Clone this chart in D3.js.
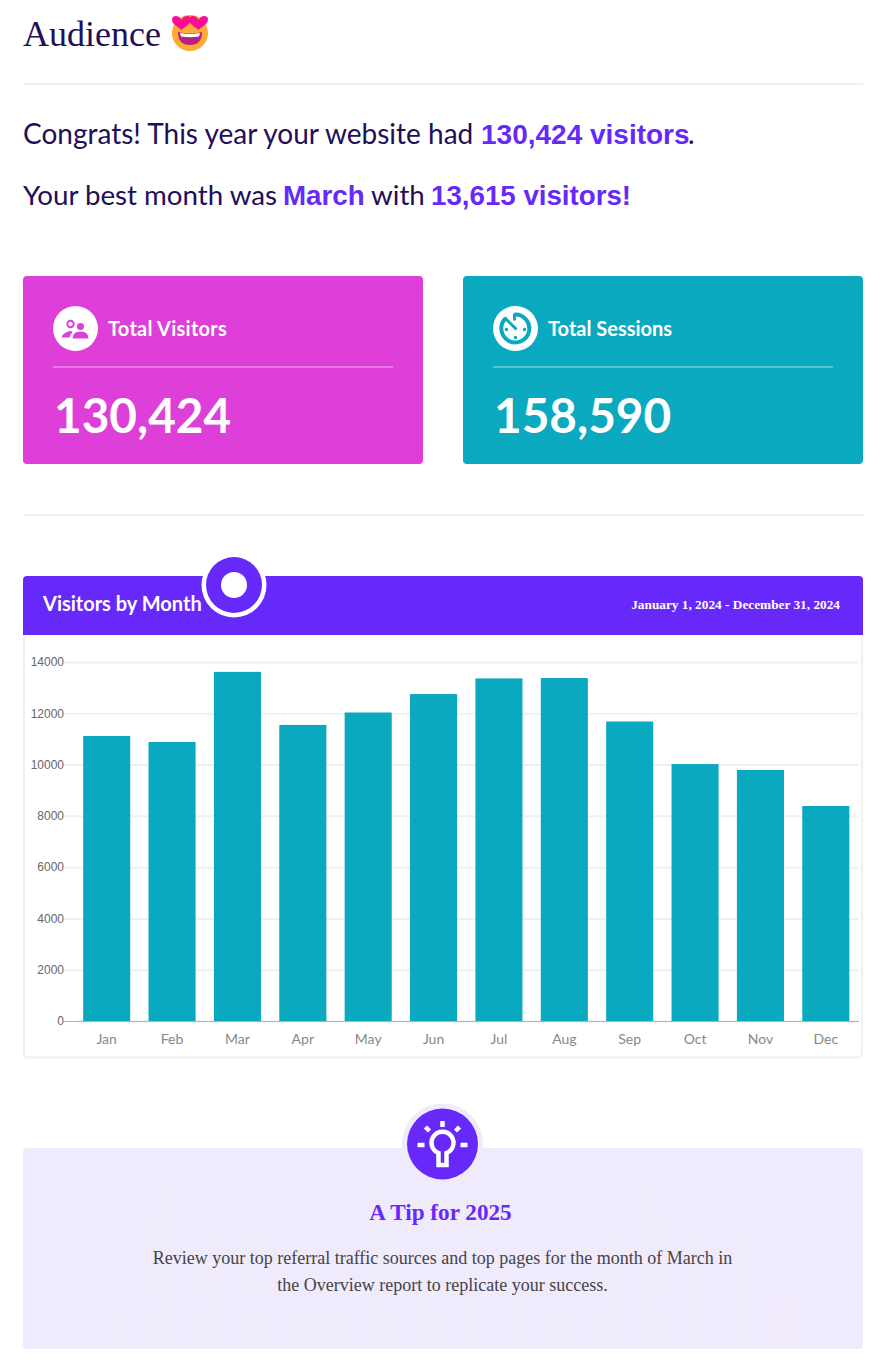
<!DOCTYPE html>
<html>
<head>
<meta charset="utf-8">
<script src="https://cdn.jsdelivr.net/npm/d3@7"></script>
<style>
  html, body { margin: 0; padding: 0; background: #fff; }
  svg { display: block; }
  .serif { font-family: "Liberation Serif", serif; }
  .lato { font-family: Lato, sans-serif; }
  .tick text { font-family: "Liberation Sans", sans-serif; font-size: 12px; fill: #666; }
  .x-axis .tick text { font-family: Lato, sans-serif; font-size: 14px; fill: #888; }
</style>
</head>
<body>
<div id="page"></div>
<script>
const width = 880;
const height = 1365;

// chart data
const months = ["Jan", "Feb", "Mar", "Apr", "May", "Jun", "Jul", "Aug", "Sep", "Oct", "Nov", "Dec"];
const visitors = [11115, 10880, 13615, 11545, 12030, 12750, 13360, 13375, 11680, 10020, 9790, 8385];
const yTicks = [0, 2000, 4000, 6000, 8000, 10000, 12000, 14000];
// faint columns behind the tip text
const tipBackdrop = [46, 161, 109, 126, 46, 46, 161, 59, 109, 59, 46, 109, 161, 109, 126, 59];

const purple = "#6729f9";
const teal = "#0aa9c0";
const magenta = "#dd3fd8";
const ink = "#210f59";
const rule = "#f0f0f0";

const svg = d3
  .select("#page")
  .append("svg")
  .attr("width", width)
  .attr("height", height)
  .attr("viewBox", `0 0 ${width} ${height}`);

function label(parent, x, y, str, cls, size, fill, weight, anchor) {
  return parent
    .append("text")
    .attr("class", cls)
    .attr("x", x)
    .attr("y", y)
    .attr("font-size", size)
    .attr("fill", fill)
    .attr("font-weight", weight || 400)
    .attr("text-anchor", anchor || "start")
    .text(str);
}

function hr(y) {
  svg.append("rect").attr("x", 23).attr("y", y).attr("width", 840).attr("height", 2).attr("fill", rule);
}

// heading + emoji
label(svg, 23, 46, "Audience", "serif", 36, ink);
const emoji = svg.append("g").attr("transform", "translate(190,33)");
emoji.append("circle").attr("r", 18).attr("fill", "#fcab35");
emoji.append("path").attr("d", "M-12,-1 Q0,2 12,-1 Q12,12 0,12 Q-12,12 -12,-1Z").attr("fill", "#b9207f");
emoji.append("path").attr("d", "M-10,0 Q0,2 10,0 L9,3.500 Q0,5 -9,3.500Z").attr("fill", "#fff");
const heart = "M0,7 C-3,4 -10,1 -9.500,-4 C-9,-8 -2,-8 0,-3 C2,-8 9,-8 9.500,-4 C10,1 3,4 0,7Z";
emoji.append("path").attr("d", heart).attr("transform", "translate(-8.500,-10)").attr("fill", "#f80e95");
emoji.append("path").attr("d", heart).attr("transform", "translate(8.500,-10)").attr("fill", "#f80e95");
hr(83);

// summary sentences, each run placed where the reference starts it
function sentence(y, size, parts) {
  const t = svg.append("text").attr("y", y);
  parts.forEach(p => {
    t.append("tspan")
      .attr("x", p[2])
      .attr("font-family", p[1] ? '"Liberation Sans", sans-serif' : "Lato, sans-serif")
      .attr("font-weight", p[1] ? 700 : 400)
      .attr("font-size", size)
      .attr("fill", p[1] ? purple : ink)
      .text(p[0]);
  });
}
sentence(144, 28, [["Congrats! This year your website had", 0, 23], ["130,424 visitors", 1, 481], [".", 0, 688]]);
sentence(205, 27.7, [["Your best month was", 0, 23], ["March", 1, 283], ["with", 0, 371], ["13,615 visitors!", 1, 431]]);

// stat cards
function card(x, fill, title, value, spacing, icon) {
  const g = svg.append("g").attr("transform", `translate(${x},276)`);
  g.append("rect").attr("width", 400).attr("height", 188).attr("rx", 4).attr("fill", fill);
  g.append("circle").attr("cx", 52.5).attr("cy", 52.5).attr("r", 22.5).attr("fill", "#fff");
  icon(g.append("g").attr("transform", "translate(52.5,52.5)"), fill);
  label(g, 85, 59.5, title, "lato", 20, "#fff", 700).attr("letter-spacing", spacing);
  g.append("rect").attr("x", 30).attr("y", 90).attr("width", 340).attr("height", 2).attr("fill", "#fff").attr("opacity", 0.3);
  label(g, 31, 157, value, "lato", 47.7, "#fff", 700);
}

card(23, magenta, "Total Visitors", "130,424", 0.25, (g, c) => {
  g.append("circle").attr("cx", -5).attr("cy", -4.5).attr("r", 3.2).attr("fill", "none").attr("stroke", c).attr("stroke-width", 2);
  g.append("circle").attr("cx", 5).attr("cy", -2).attr("r", 3.5).attr("fill", c);
  g.append("path").attr("d", "M-14,9 Q-12,3 -4,2.500 L-3,4 Q-5,5 -6,9Z").attr("fill", c);
  g.append("path").attr("d", "M-3,10 Q-3,3 5,3 Q13,3 13,10Z").attr("fill", c);
});
card(463, teal, "Total Sessions", "158,590", 0, (g, c) => {
  g.append("path").attr("d", "M-1,-14 A14,14 0 1 1 -10,-10").attr("fill", "none").attr("stroke", c).attr("stroke-width", 4);
  g.append("path").attr("d", "M-11,-11 L1,1 M-1,-15 V-8").attr("fill", "none").attr("stroke", c).attr("stroke-width", 3);
  [[-9, 1], [9, 1], [0, 9]].forEach(p => {
    g.append("circle").attr("cx", p[0]).attr("cy", p[1]).attr("r", 1.7).attr("fill", c);
  });
});
hr(514);

// chart panel
svg.append("rect").attr("x", 24).attr("y", 600).attr("width", 838).attr("height", 457.5).attr("rx", 4).attr("fill", "#fff").attr("stroke", rule).attr("stroke-width", 2);
svg.append("path").attr("d", "M23,635 V580 Q23,576 27,576 H859 Q863,576 863,580 V635Z").attr("fill", purple);
label(svg, 43, 610.5, "Visitors by Month", "lato", 20, "#fff", 700);
svg.append("circle").attr("cx", 234).attr("cy", 585).attr("r", 32.5).attr("fill", "#fff");
svg.append("circle").attr("cx", 234).attr("cy", 585).attr("r", 28).attr("fill", purple);
svg.append("circle").attr("cx", 234).attr("cy", 585).attr("r", 13).attr("fill", "#fff");
label(svg, 840, 609, "January 1, 2024 - December 31, 2024", "serif", 13.3, "#fff", 700, "end");

const x = d3.scaleBand().domain(months).range([74, 858.5]).paddingInner(0.28).paddingOuter(0.14);
const y = d3.scaleLinear().domain([0, 14000]).range([1021, 662]);

const grid = d3.axisLeft(y).tickValues(yTicks).tickSize(-784.5).tickPadding(10).tickFormat(d3.format("d"));
const yAxis = svg.append("g").attr("transform", "translate(74,0)").call(grid);
yAxis.select(".domain").remove();
yAxis.selectAll(".tick line").attr("stroke", rule).attr("stroke-width", 2);
yAxis.selectAll(".tick").append("line").attr("x1", -10).attr("x2", 0)
  .attr("stroke", d => (d === 0 ? "#b5b5b5" : rule))
  .attr("stroke-width", d => (d === 0 ? 1 : 2));

svg.append("g")
  .selectAll("rect")
  .data(visitors)
  .join("rect")
  .attr("x", (d, i) => x(months[i]))
  .attr("y", d => y(d))
  .attr("width", x.bandwidth())
  .attr("height", d => y(0) - y(d))
  .attr("fill", teal);

const xAxis = svg.append("g").attr("class", "x-axis").attr("transform", "translate(0,1021)").call(d3.axisBottom(x).tickSize(0).tickPadding(13));
xAxis.select(".domain").attr("stroke", "#b5b5b5");

// tip card, dotted backdrop
const defs = svg.append("defs");
const dots = defs.append("pattern").attr("id", "dots").attr("width", 3).attr("height", 3).attr("patternUnits", "userSpaceOnUse");
dots.append("circle").attr("cx", 1.5).attr("cy", 1.5).attr("r", 0.7).attr("fill", "#fff");
const sparse = defs.append("pattern").attr("id", "sparse").attr("width", 6).attr("height", 6).attr("patternUnits", "userSpaceOnUse");
sparse.append("circle").attr("cx", 2).attr("cy", 2).attr("r", 0.6).attr("fill", "#fff").attr("opacity", 0.35);

svg.append("rect").attr("x", 23).attr("y", 1148).attr("width", 840).attr("height", 201).attr("rx", 4).attr("fill", "#f0eafd");
svg.append("rect").attr("x", 23).attr("y", 1148).attr("width", 840).attr("height", 201).attr("rx", 4).attr("fill", "url(#sparse)");

const backdropX = d3.scaleBand().domain(d3.range(tipBackdrop.length)).range([103, 801]).paddingInner(0.33);
svg.append("g")
  .attr("opacity", 0.28)
  .selectAll("rect")
  .data(tipBackdrop)
  .join("rect")
  .attr("x", (d, i) => backdropX(i))
  .attr("y", d => 1349 - d)
  .attr("width", backdropX.bandwidth())
  .attr("height", d => d)
  .attr("fill", "url(#dots)");

svg.append("circle").attr("cx", 442.5).attr("cy", 1144).attr("r", 40.5).attr("fill", "#f0eafd");
svg.append("circle").attr("cx", 442.5).attr("cy", 1144).attr("r", 35.5).attr("fill", purple);
const bulb = svg.append("g").attr("transform", "translate(442.5,1144)").attr("stroke", "#fff").attr("fill", "none").attr("stroke-width", 4.5);
bulb.append("path").attr("d", "M-4,21 V9 A11,11 0 1 1 4,9 V21Z");
bulb.append("path").attr("d", "M0,-23 V-17 M-17,-17 L-13,-13 M17,-17 L13,-13 M-25,1 H-18 M25,1 H18");
label(svg, 440.5, 1219.5, "A Tip for 2025", "serif", 23.2, purple, 700, "middle");
label(svg, 442.5, 1264, "Review your top referral traffic sources and top pages for the month of March in", "serif", 18, "#444", 400, "middle");
label(svg, 442.5, 1291, "the Overview report to replicate your success.", "serif", 18, "#444", 400, "middle");
</script>
</body>
</html>
